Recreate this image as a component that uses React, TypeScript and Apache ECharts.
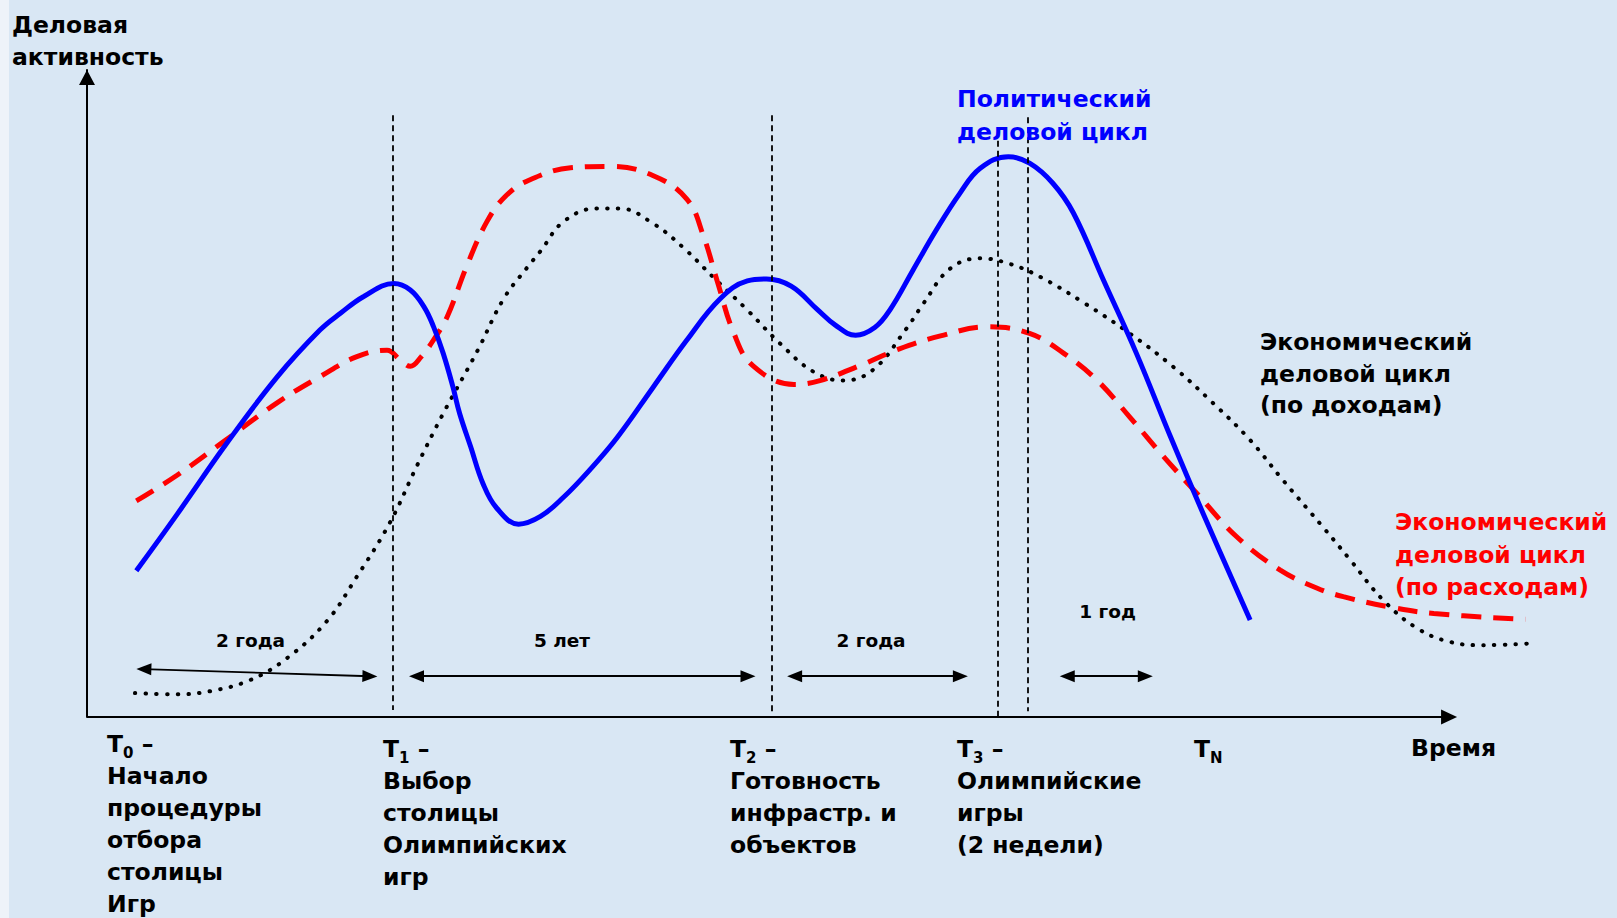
import React, { useEffect, useRef } from "react";
import * as echarts from "echarts";

// Time axis: 0 at the origin, 100 at the arrow tip; activity axis: 0..100 (arrow tip)
const politicalCycle: [number, number][] = [
  [3.6, 22.6], [6.6, 31.4], [10.2, 42.3], [13.9, 52.6], [17.0, 59.8], [18.5, 62.4],
  [20.2, 65.0], [22.4, 67.0], [23.6, 66.0], [24.6, 63.4], [25.3, 60.3], [26.0, 56.2],
  [26.7, 51.1], [27.2, 46.9], [28.0, 41.8], [28.9, 36.1], [29.9, 32.3], [31.5, 29.8],
  [33.1, 31.0], [34.8, 34.0], [36.7, 38.2], [38.7, 43.2], [41.3, 50.9], [43.8, 58.3],
  [46.2, 64.6], [48.2, 67.4], [49.6, 67.7], [51.4, 66.6], [53.3, 63.0], [54.6, 60.6],
  [56.1, 59.0], [57.5, 60.2], [58.6, 62.9], [60.3, 69.1], [62.0, 75.3], [63.7, 80.9],
  [65.2, 84.8], [67.25, 86.6], [68.8, 85.6], [70.5, 82.5], [72.0, 77.9], [74.2, 67.5],
  [76.6, 56.2], [79.05, 43.5], [81.5, 31.3], [84.9, 15.0],
];

const spendingCycle: [number, number][] = [
  [3.6, 33.4], [6.6, 37.4], [10.0, 42.6], [13.9, 48.6], [17.0, 52.6], [19.7, 55.7],
  [21.9, 56.7], [22.85, 55.2], [23.6, 54.2], [24.4, 55.7], [25.3, 58.3], [26.3, 61.9],
  [27.7, 69.6], [29.2, 76.6], [30.6, 80.6], [32.3, 83.0], [35.3, 84.9], [38.2, 85.1],
  [41.3, 83.7], [43.8, 80.0], [45.0, 74.3], [46.0, 67.4], [47.2, 59.4], [48.6, 54.3],
  [51.6, 51.4], [53.5, 52.0], [56.4, 54.3], [59.3, 56.9], [62.3, 58.9], [65.7, 60.3],
  [68.8, 59.3], [71.3, 56.2], [73.7, 52.1], [76.1, 46.4], [78.6, 40.2], [81.0, 34.6],
  [83.9, 27.9], [87.1, 22.7], [89.8, 19.9], [91.7, 18.6], [95.1, 17.0], [98.3, 16.0],
  [105.0, 15.1],
];

const incomeCycle: [number, number][] = [
  [3.5, 3.7], [6.6, 3.5], [9.0, 4.0], [11.9, 5.7], [14.6, 9.1], [17.5, 14.8],
  [19.7, 21.7], [22.1, 30.0], [24.1, 38.9], [26.0, 46.9], [28.5, 56.6], [30.4, 64.6],
  [32.1, 69.4], [33.1, 72.0], [34.8, 76.6], [37.2, 78.6], [38.9, 78.6], [41.3, 76.3],
  [43.5, 72.6], [45.7, 68.0], [48.2, 62.9], [50.6, 57.7], [53.0, 53.4], [55.2, 52.0],
  [57.4, 53.7], [59.8, 60.0], [61.05, 63.9], [63.0, 69.3], [65.2, 70.9], [67.4, 70.0],
  [69.6, 68.0], [72.85, 63.9], [76.1, 59.3], [79.3, 54.1], [82.2, 48.5], [84.9, 42.8],
  [87.3, 36.6], [90.2, 29.4], [92.2, 24.3], [94.6, 18.1], [97.1, 13.7], [99.5, 11.6],
  [101.9, 11.1], [105.6, 11.4],
];

// Time markers T0, T1, T2, T3 (start), T3 (end)
const timeMarks = [1.8, 22.3, 50.0, 66.5, 68.7];
// Period arrows on the time axis, and their heights
const periodStarts = [3.6, 23.5, 51.1, 71.0];
const periodEnds = [21.2, 48.8, 64.3, 77.8];
const periodStartLevels = [7.4, 6.3, 6.3, 6.3];
const periodEndLevels = [6.3, 6.3, 6.3, 6.3];
const periodLabels = ["2 года", "5 лет", "2 года", "1 год"];

const FONT = '"DejaVu Sans", Verdana, sans-serif';
const BIG = 23.5;
const SMOOTH = 0.4;

function App() {
  const ref = useRef<HTMLDivElement>(null);

  useEffect(() => {
    if (!ref.current) return;
    const chart = echarts.init(ref.current, undefined, { renderer: "svg" });

    const markTops = [91.8, 93.0, 93.0, 90.6, 92.7];
    const markBottoms = [-0.2, 1.1, 0.9, 0, 0.9];
    const dashStyle = { color: "#000", width: 1.8, type: [6, 4] as number[] };
    const arrowStyle = { color: "#000", width: 1.8, type: "solid" as const };
    const axisStyle = { color: "#000", width: 2, type: "solid" as const };
    const headHalf = 0.55;

    const markData: any[] = [];
    // time axis with its arrow (tip at 100)
    markData.push([
      { coord: [0, 0], symbol: "none", lineStyle: axisStyle },
      { coord: [100 - 0.58, 0], symbol: "triangle", symbolSize: [15, 16] },
    ]);
    timeMarks.forEach((t, i) => {
      markData.push([
        { coord: [t, markTops[i]], symbol: "none", lineStyle: dashStyle },
        { coord: [t, markBottoms[i]], symbol: "none" },
      ]);
    });
    periodStarts.forEach((s, i) => {
      markData.push([
        {
          coord: [s + headHalf, periodStartLevels[i]],
          symbol: "triangle",
          symbolSize: [12, 15],
          lineStyle: arrowStyle,
        },
        {
          coord: [periodEnds[i] - headHalf, periodEndLevels[i]],
          symbol: "triangle",
          symbolSize: [12, 15],
        },
      ]);
    });

    const bold = (
      x: number,
      y: number,
      text: string,
      fill: string,
      fontSize: number,
      lineHeight: number,
      align: "left" | "center" = "left",
      vAlign: "top" | "middle" = "top",
      rich?: any
    ) => ({
      type: "text",
      x,
      y,
      silent: true,
      z: 10,
      style: {
        text,
        fill,
        fontFamily: FONT,
        fontSize,
        fontWeight: "bold",
        lineHeight,
        align,
        verticalAlign: vAlign,
        rich,
      },
    });

    const tRich = {
      m: { fontFamily: FONT, fontSize: BIG, fontWeight: "bold", lineHeight: 32, fill: "#000" },
      s: {
        fontFamily: FONT,
        fontSize: 15,
        fontWeight: "bold",
        lineHeight: 22,
        verticalAlign: "bottom",
        fill: "#000",
      },
    };
    const tLabel = (sub: string, lines: string[], dash = true) =>
      `{m|T}{s|${sub}}` + (dash ? "{m| –}" : "") + lines.map((l) => `\n{m|${l}}`).join("");

    const option: any = {
      animation: false,
      backgroundColor: "#d9e7f4",
      // 1 time unit = 13.7 px, 1 activity unit = 6.47 px
      grid: { left: 87, top: 70, width: 1507, height: 647, containLabel: false },
      xAxis: {
        type: "value",
        min: 0,
        max: 110,
        axisLine: { show: false },
        axisTick: { show: false },
        axisLabel: { show: false },
        splitLine: { show: false },
      },
      yAxis: {
        type: "value",
        min: 0,
        max: 100,
        axisLine: {
          show: true,
          onZero: false,
          symbol: ["none", "triangle"],
          symbolSize: [16, 15],
          symbolOffset: [0, -7.5],
          lineStyle: { color: "#000", width: 2 },
        },
        axisTick: { show: false },
        axisLabel: { show: false },
        splitLine: { show: false },
      },
      series: [
        {
          name: "Экономический деловой цикл (по доходам)",
          type: "line",
          data: incomeCycle,
          smooth: SMOOTH,
          symbol: "none",
          clip: false,
          silent: true,
          z: 2,
          lineStyle: { color: "#000", width: 4, type: [0.5, 10.2], cap: "round" },
          markLine: {
            silent: true,
            animation: false,
            symbol: ["none", "none"],
            label: { show: false },
            emphasis: { disabled: true },
            lineStyle: dashStyle,
            data: markData,
          },
        },
        {
          name: "Экономический деловой цикл (по расходам)",
          type: "line",
          data: spendingCycle,
          smooth: SMOOTH,
          symbol: "none",
          clip: false,
          silent: true,
          z: 3,
          lineStyle: { color: "#ff0000", width: 5, type: [20, 12] },
        },
        {
          name: "Политический деловой цикл",
          type: "line",
          data: politicalCycle,
          smooth: SMOOTH,
          symbol: "none",
          clip: false,
          silent: true,
          z: 4,
          lineStyle: { color: "#0000ff", width: 5 },
        },
      ],
      graphic: [
        { type: "rect", x: 0, y: 0, shape: { width: 9, height: 918 }, style: { fill: "#eef3f9" }, silent: true, z: -1 },
        bold(12, 9, "Деловая\nактивность", "#000", BIG, 31.7),
        bold(957, 83, "Политический\nделовой цикл", "#0000ff", BIG, 32.5),
        bold(1260, 326, "Экономический\nделовой цикл\n(по доходам)", "#000", BIG, 31.7),
        bold(1395, 506, "Экономический\nделовой цикл\n(по расходам)", "#ff0000", BIG, 32.5),
        bold(250.5, 640, periodLabels[0], "#000", 18.5, 24, "center", "middle"),
        bold(562, 640, periodLabels[1], "#000", 18.5, 24, "center", "middle"),
        bold(871, 640, periodLabels[2], "#000", 18.5, 24, "center", "middle"),
        bold(1107.5, 611, periodLabels[3], "#000", 18.5, 24, "center", "middle"),
        bold(107, 728, tLabel("0", ["Начало", "процедуры", "отбора", "столицы", "Игр"]), "#000", BIG, 32, "left", "top", tRich),
        bold(383, 733, tLabel("1", ["Выбор", "столицы", "Олимпийских", "игр"]), "#000", BIG, 32, "left", "top", tRich),
        bold(730, 733, tLabel("2", ["Готовность", "инфрастр. и", "объектов"]), "#000", BIG, 32, "left", "top", tRich),
        bold(957, 733, tLabel("3", ["Олимпийские", "игры", "(2 недели)"]), "#000", BIG, 32, "left", "top", tRich),
        bold(1194, 733, tLabel("N", [], false), "#000", BIG, 32, "left", "top", tRich),
        bold(1411, 732, "Время", "#000", BIG, 32),
      ],
    };

    chart.setOption(option);
    return () => chart.dispose();
  }, []);

  return (
    <div
      ref={ref}
      style={{ position: "fixed", left: 0, top: 0, width: "1617px", height: "918px" }}
    />
  );
}

export default App;
